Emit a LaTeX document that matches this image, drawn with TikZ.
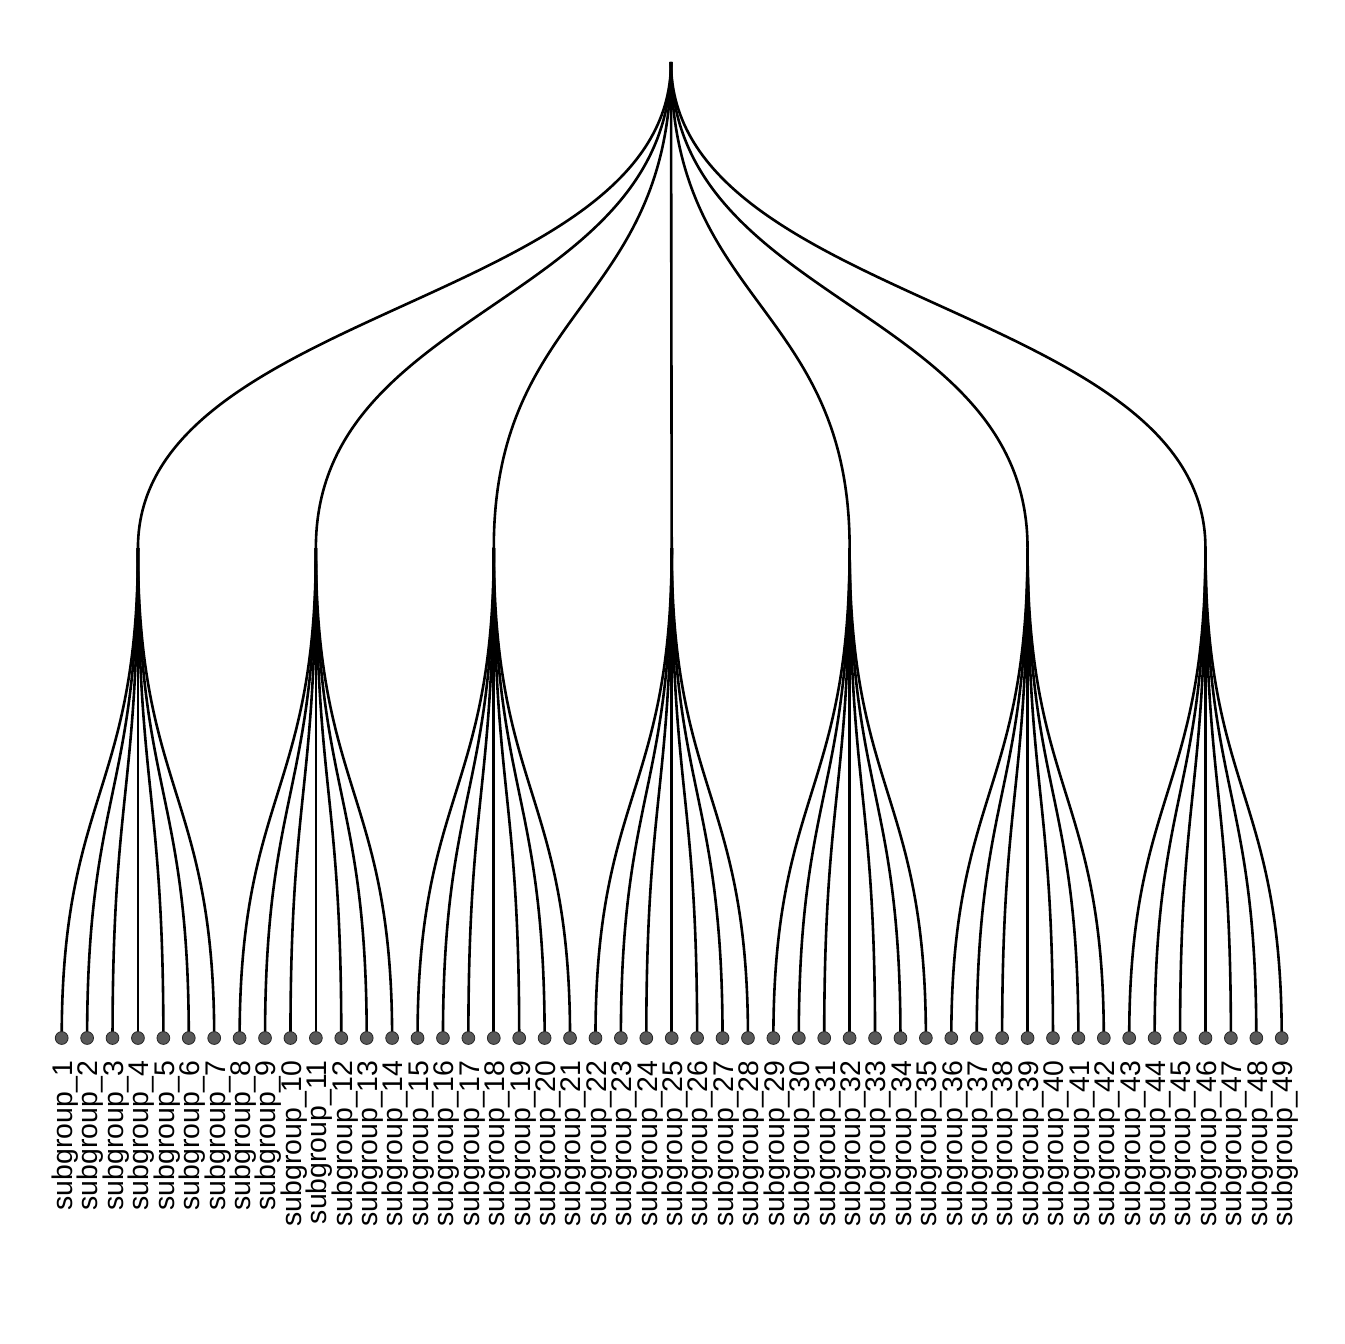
\documentclass[tikz,border=0pt]{standalone}
\usepackage{fontspec}
\setmainfont{Liberation Sans}
\begin{document}
\begin{tikzpicture}[x=0.5pt,y=-0.5pt,
  edge/.style={line width=1.3pt, black},
  leafdot/.style={circle, fill=black!65, draw=black!85, line width=0.4pt, inner sep=0pt, minimum size=6.4pt},
  lab/.style={xshift=1.75pt, yshift=-11pt, rotate=90, anchor=east, font=\fontsize{14.2}{16}\selectfont, inner sep=0pt}]
\useasboundingbox (0,0) rectangle (1344,1344);
\coordinate (root) at (671,62);
\coordinate (m1) at (0,305);
\coordinate (m2) at (0,793);
\foreach \g in {0,...,6} {
  \coordinate (g\g) at ({61.7+(7*\g+3)*25.417},548);
}
\foreach \i in {1,...,49} {
  \coordinate (l\i) at ({61.7+(\i-1)*25.417},1038);
}
\foreach \g in {0,...,6} {
  \draw[edge] (root) .. controls (root |- m1) and (g\g |- m1) .. (g\g);
}
\foreach \i in {1,...,49} {
  \pgfmathtruncatemacro\gg{int((\i-1)/7)}
  \draw[edge] (g\gg) .. controls (g\gg |- m2) and (l\i |- m2) .. (l\i);
}
\foreach \i in {1,...,49} {
  \node[leafdot] (d\i) at (l\i) {};
  \node[lab] (t\i) at (l\i) {subgroup\_\i};
}
\end{tikzpicture}
\end{document}
